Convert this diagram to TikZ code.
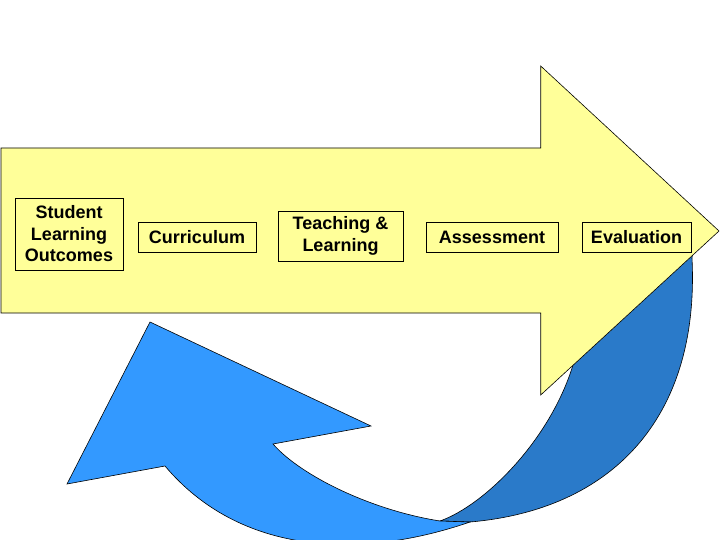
\documentclass[tikz,border=0pt]{standalone}
\usepackage{fontspec}
\setmainfont{Liberation Sans}
\usepackage{xcolor}
\usepackage{tikz}
\definecolor{ArrowYellow}{HTML}{FFFF99}
\definecolor{LoopBlue}{HTML}{3399FF}
\definecolor{LoopDark}{HTML}{2A7AC9}

\begin{document}
\begin{tikzpicture}[x=1pt,y=-1pt,
  stage/.style={draw=black,line width=0.6pt,fill=ArrowYellow,align=center,inner sep=0pt,font=\fontsize{18}{21.5}\selectfont\bfseries}]
\path[use as bounding box] (0,0) rectangle (720,540);
\clip (0,0) rectangle (720,540);
\draw[fill=LoopDark,line width=0.6pt] (440,521) .. controls (485,505) and (550,440) .. (573,365) -- (585,330) -- (694,240) -- (692,258) .. controls (700,420) and (610,510) .. (470,522) -- cycle;
\draw[fill=ArrowYellow,line width=0.6pt] (1,148) -- (540.7,148) -- (540.7,66) -- (719,231) -- (540.7,395) -- (540.7,313) -- (1,313) -- cycle;
\draw[fill=LoopBlue,line width=0.6pt] (150,322) -- (371,426) -- (273,444) .. controls (300,475) and (370,510) .. (440,521) -- (470,522) .. controls (360,560) and (240,555) .. (165,466) -- (67,484) -- cycle;
\node[stage,minimum width=108pt,minimum height=72pt] (outcomes) at (69,234) {Student\\Learning\\Outcomes};
\node[stage,minimum width=118pt,minimum height=30pt] (curriculum) at (197,237) {Curriculum};
\node[stage,minimum width=125pt,minimum height=50pt] (teaching) at (340.5,236) {Teaching \&\\Learning};
\node[stage,minimum width=132pt,minimum height=30pt] (assessment) at (492,237) {Assessment};
\node[stage,minimum width=109pt,minimum height=30pt] (evaluation) at (636.5,237) {Evaluation};
\end{tikzpicture}
\end{document}
